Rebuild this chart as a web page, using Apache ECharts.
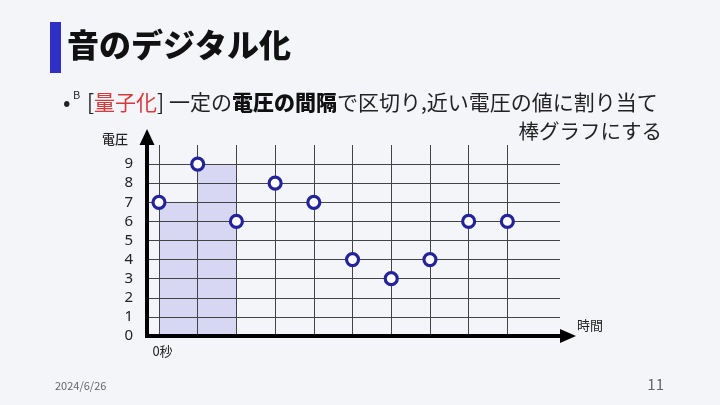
<!DOCTYPE html>
<html>
<head>
<meta charset="utf-8">
<script src="https://cdn.jsdelivr.net/npm/echarts@6/dist/echarts.min.js"></script>
<style>
html,body{margin:0;padding:0;background:#f4f5f8;}
#c{width:720px;height:405px;}
</style>
</head>
<body>
<div id="c"></div>
<script>
// sample times (index) and quantized voltage values
const times = [0, 1, 2, 3, 4, 5, 6, 7, 8, 9];
const voltages = [7, 9, 6, 8, 7, 4, 3, 4, 6, 6];
// bars drawn for the first samples (start time, value)
const barStarts = [0, 1];
const barValues = [7, 9];
// tick labels
const yTicks = [0, 1, 2, 3, 4, 5, 6, 7, 8, 9];
const xTickValues = [0];
const xTickLabels = ['0秒'];

const pointData = times.map((t, i) => [t, voltages[i]]);
const barData = barStarts.map((t, i) => [t, barValues[i]]);

const JP = '"Noto Sans CJK JP", "Noto Sans", sans-serif';
const chart = echarts.init(document.getElementById('c'), null, {renderer: 'canvas'});

chart.setOption({
  backgroundColor: '#f4f5f8',
  animation: false,
  textStyle: {fontFamily: JP},
  grid: {left: 147, right: 160, top: 145, bottom: 69, containLabel: false},
  xAxis: {
    type: 'value',
    min: -0.31,
    max: 10.36,
    z: 1,
    axisLine: {
      show: true, onZero: true,
      lineStyle: {color: '#000', width: 4, cap: 'square'},
      symbol: ['none', 'triangle'],
      symbolSize: [14, 16],
      symbolOffset: [0, 8]
    },
    axisTick: {show: false},
    splitLine: {show: false},
    axisLabel: {
      show: true,
      customValues: xTickValues,
      formatter: function (v) { const i = xTickValues.indexOf(v); return i >= 0 ? xTickLabels[i] : ''; },
      fontSize: 13, color: '#222', margin: 9, padding: [0, 0, 0, 7],
      fontFamily: JP
    }
  },
  yAxis: {
    type: 'value',
    min: 0,
    max: 10,
    interval: 1,
    z: 1,
    axisLine: {
      show: true, onZero: false,
      lineStyle: {color: '#000', width: 4},
      symbol: ['none', 'triangle'],
      symbolSize: [15, 16],
      symbolOffset: [0, 8]
    },
    axisTick: {show: false},
    axisLabel: {
      customValues: yTicks,
      fontSize: 15, color: '#222', margin: 14,
      fontFamily: '"Noto Sans", sans-serif'
    },
    splitLine: {
      show: true, showMinLine: false, showMaxLine: false,
      lineStyle: {color: '#444', width: 1}
    }
  },
  series: [
    {
      type: 'custom',
      z: 0,
      silent: true,
      data: barData,
      renderItem: function (params, api) {
        const s = api.value(0), v = api.value(1);
        const p0 = api.coord([s, 0]);
        const p1 = api.coord([s + 1, v]);
        return {
          type: 'rect',
          shape: {x: p0[0], y: p1[1], width: p1[0] - p0[0], height: p0[1] - p1[1]},
          style: {fill: '#d7d7f3'}
        };
      }
    },
    {
      type: 'scatter',
      z: 1,
      silent: true,
      data: [],
      markLine: {
        z: 1,
        silent: true,
        symbol: ['none', 'none'],
        label: {show: false},
        lineStyle: {color: '#444', width: 1, type: 'solid'},
        data: times.map(t => ({xAxis: t}))
      }
    },
    {
      type: 'scatter',
      z: 10,
      data: pointData,
      symbol: 'circle',
      symbolSize: 12,
      itemStyle: {color: '#ffffff', borderColor: '#23239a', borderWidth: 3.2, opacity: 1}
    }
  ],
  graphic: [
    {type: 'rect', shape: {x: 50, y: 22, width: 11, height: 51}, style: {fill: '#2f2fc6'}},
    {type: 'text', style: {x: 67, y: 45, text: '音のデジタル化', fill: '#111', font: '900 32px ' + JP, verticalAlign: 'middle'}},
    {type: 'text', style: {x: 63, y: 102, text: '•', fill: '#222', font: '22px ' + JP, verticalAlign: 'middle'}},
    {type: 'text', style: {x: 73, y: 95, text: 'B', fill: '#222', font: '11px ' + JP, verticalAlign: 'middle'}},
    {type: 'text', style: {
      x: 87, y: 102, verticalAlign: 'middle',
      text: '[{r|量子化}] 一定の{b|電圧の間隔}で区切り,近い電圧の値に割り当て',
      fill: '#222', font: '21px ' + JP,
      rich: {
        r: {fill: '#d63a3a', font: '21px ' + JP},
        b: {fill: '#111', font: '900 21px ' + JP}
      }
    }},
    {type: 'text', style: {x: 662, y: 131, text: '棒グラフにする', fill: '#222', font: '20.5px ' + JP, align: 'right', verticalAlign: 'middle'}},
    {type: 'text', style: {x: 102, y: 139, text: '電圧', fill: '#222', font: '500 13px ' + JP, verticalAlign: 'middle'}},
    {type: 'text', style: {x: 577, y: 325, text: '時間', fill: '#222', font: '13px ' + JP, verticalAlign: 'middle'}},
    {type: 'text', style: {x: 55, y: 386, text: '2024/6/26', fill: '#666', font: '11px ' + JP, verticalAlign: 'middle'}},
    {type: 'text', style: {x: 664, y: 384, text: '11', fill: '#666', font: '15px ' + JP, align: 'right', verticalAlign: 'middle'}}
  ]
});
</script>
</body>
</html>
